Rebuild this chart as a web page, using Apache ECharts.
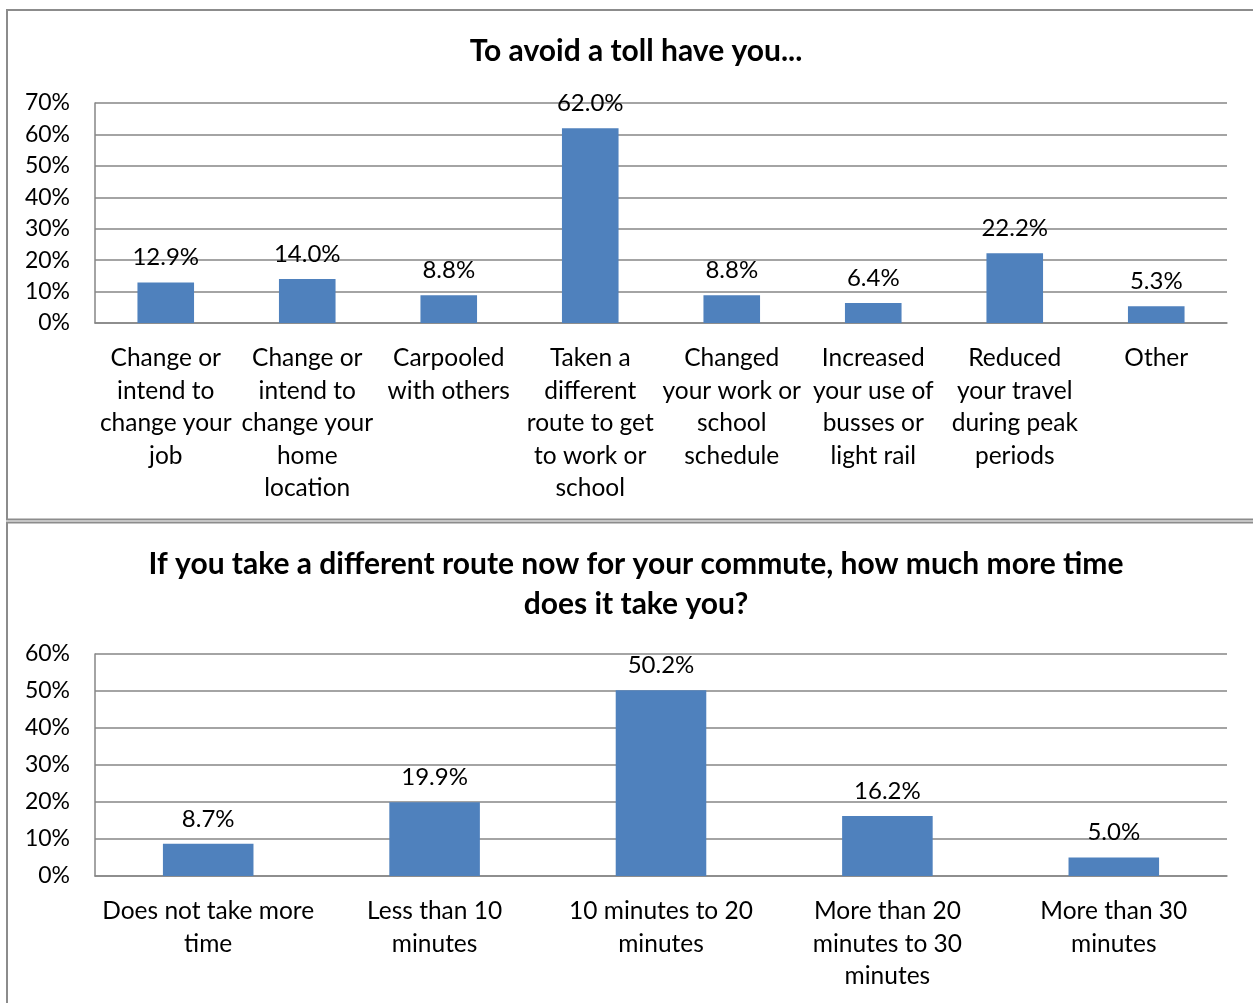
<!DOCTYPE html>
<html><head><meta charset="utf-8">
<script src="https://cdn.jsdelivr.net/npm/echarts@6/dist/echarts.min.js"></script>
<style>html,body{margin:0;padding:0;background:#fff}#c{width:1253px;height:1003px}</style>
</head><body><div id="c"></div>
<script>
const topTitle = 'To avoid a toll have you...';
const topCategories = [
  'Change or\nintend to\nchange your\njob',
  'Change or\nintend to\nchange your\nhome\nlocation',
  'Carpooled\nwith others',
  'Taken a\ndifferent\nroute to get\nto work or\nschool',
  'Changed\nyour work or\nschool\nschedule',
  'Increased\nyour use of\nbusses or\nlight rail',
  'Reduced\nyour travel\nduring peak\nperiods',
  'Other'
];
const topValues = [12.9, 14.0, 8.8, 62.0, 8.8, 6.4, 22.2, 5.3];
const topTicks = { max: 70, interval: 10 };

const bottomTitle = 'If you take a different route now for your commute, how much more time\ndoes it take you?';
const bottomCategories = [
  'Does not take more\ntime',
  'Less than 10\nminutes',
  '10 minutes to 20\nminutes',
  'More than 20\nminutes to 30\nminutes',
  'More than 30\nminutes'
];
const bottomValues = [8.7, 19.9, 50.2, 16.2, 5.0];
const bottomTicks = { max: 60, interval: 10 };

const FONT = 'Lato, "Open Sans", sans-serif';
const GRID_COLOR = '#868686';
const BAR_COLOR = '#4F81BD';

const chart = echarts.init(document.getElementById('c'));

function xAxis(idx, cats) {
  return {
    type: 'category', gridIndex: idx, data: cats,
    axisLine: { show: true, lineStyle: { color: GRID_COLOR, width: 1.5 } },
    axisTick: { show: false },
    axisLabel: { interval: 0, color: '#000', fontFamily: FONT, fontSize: 24.5, lineHeight: 32.5, margin: 19 }
  };
}
function yAxis(idx, t) {
  return {
    type: 'value', gridIndex: idx, min: 0, max: t.max, interval: t.interval,
    axisLine: { show: true, lineStyle: { color: GRID_COLOR, width: 1.5 } },
    axisTick: { show: false },
    splitLine: { lineStyle: { color: GRID_COLOR, width: 1.5 } },
    axisLabel: { color: '#000', fontFamily: FONT, fontSize: 23, margin: 25, formatter: '{value}%' }
  };
}
function barSeries(idx, vals) {
  return {
    type: 'bar', xAxisIndex: idx, yAxisIndex: idx, data: vals,
    barWidth: '40%', itemStyle: { color: BAR_COLOR },
    label: { show: true, position: 'top', distance: 13, color: '#000', fontFamily: FONT, fontSize: 24,
      formatter: p => p.value.toFixed(1) + '%' },
    animation: false
  };
}

chart.setOption({
  animation: false,
  title: [
    { text: topTitle, left: 631, top: 31, textAlign: 'center',
      textStyle: { fontFamily: FONT, fontSize: 30, fontWeight: 'bold', color: '#000' } },
    { text: bottomTitle, left: 631, top: 539, textAlign: 'center',
      textStyle: { fontFamily: FONT, fontSize: 30, fontWeight: 'bold', color: '#000', lineHeight: 40, align: 'center' } }
  ],
  grid: [
    { left: 95, top: 103, width: 1132, height: 220 },
    { left: 95, top: 654, width: 1132, height: 222 }
  ],
  xAxis: [xAxis(0, topCategories), xAxis(1, bottomCategories)],
  yAxis: [yAxis(0, topTicks), yAxis(1, bottomTicks)],
  series: [barSeries(0, topValues), barSeries(1, bottomValues)],
  graphic: [
    { type: 'rect', shape: { x: 7, y: 10, width: 1260, height: 509.5 }, style: { fill: 'none', stroke: '#8c8c8c', lineWidth: 2 }, silent: true },
    { type: 'rect', shape: { x: 7, y: 522.5, width: 1260, height: 500 }, style: { fill: 'none', stroke: '#8c8c8c', lineWidth: 2 }, silent: true }
  ]
});
</script></body></html>
